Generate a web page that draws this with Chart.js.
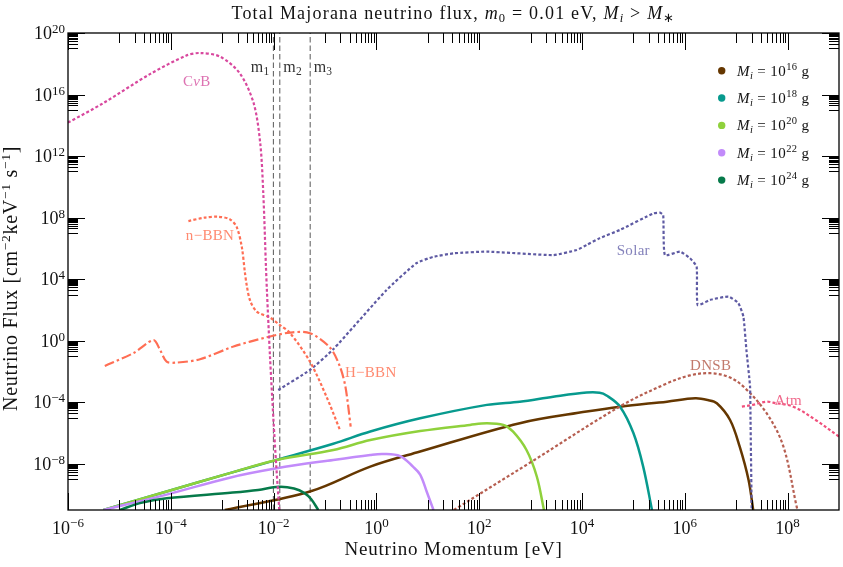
<!DOCTYPE html>
<html><head><meta charset="utf-8">
<style>html,body{margin:0;padding:0;background:#fff}#wrap{width:843px;height:567px}</style>
<script src="https://cdn.jsdelivr.net/npm/chart.js@4/dist/chart.umd.min.js"></script>
</head><body><div id="wrap"><canvas id="c" width="843" height="567"></canvas></div>
<script>
// ---------------- data ----------------
const xTickValues = [1e-6, 1e-4, 1e-2, 1e0, 1e2, 1e4, 1e6, 1e8];
const xTickExps   = ['−6', '−4', '−2', '0', '2', '4', '6', '8'];
const yTickValues = [1e20, 1e16, 1e12, 1e8, 1e4, 1e0, 1e-4, 1e-8];
const yTickExps   = ['20', '16', '12', '8', '4', '0', '−4', '−8'];

const massLineP   = [0.0099, 0.0132, 0.0515];   // m1, m2, m3 [eV]
const massLabels  = ['1', '2', '3'];

const pbhMassExps = ['16', '18', '20', '22', '24'];

// PBH spectra (momentum eV, flux)
const m16P = [1.12e-3, 5.1e-2, 0.76, 7.1, 617, 1.23e4, 5.5e4, 4.5e5, 1.6e6, 2.8e6, 4.2e6, 7.6e6, 1.17e7, 1.74e7, 2.14e7];
const m16F = [1e-11, 1.6e-10, 6.6e-9, 6.3e-8, 4.4e-6, 2.5e-5, 5.2e-5, 1.1e-4, 1.8e-4, 1.4e-4, 8.7e-5, 7.1e-6, 1.3e-7, 8.9e-10, 1e-11];

const m18P = [4.9e-6, 8.3e-5, 1.4e-3, 1.15e-2, 0.145, 0.76, 7.1, 141, 617, 2.75e3, 1.23e4, 2.2e4, 3.0e4, 5.5e4, 1e5, 1.55e5, 2.3e5];
const m18F = [1e-11, 1.6e-10, 2.5e-9, 1.8e-8, 2.0e-7, 1.26e-6, 9.1e-6, 6.8e-5, 1.1e-4, 2.3e-4, 4.3e-4, 4.2e-4, 2.8e-4, 5.2e-5, 1e-6, 6.6e-9, 1e-11];

const m20P = [4.9e-6, 8.3e-5, 1.4e-3, 1.15e-2, 0.145, 0.76, 7.1, 66, 141, 295, 457, 832, 1.32e3, 1.82e3];
const m20F = [1e-11, 1.6e-10, 2.5e-9, 1.8e-8, 7.9e-8, 3.5e-7, 1.35e-6, 3.4e-6, 4.4e-6, 3.4e-6, 1.23e-6, 7.9e-8, 1.5e-9, 1e-11];

const m22P = [4.9e-6, 8.3e-5, 1.4e-3, 1.15e-2, 0.145, 0.76, 1.35, 2.9, 5.2, 7.1, 9.5, 12.9];
const m22F = [1e-11, 1e-10, 1.26e-9, 5.1e-9, 1.8e-8, 3.8e-8, 4.4e-8, 3.2e-8, 6.3e-9, 2.0e-9, 1.6e-10, 1e-11];

const m24P = [1.02e-5, 2.5e-5, 8.3e-5, 1.6e-3, 5.0e-3, 1.26e-2, 2.5e-2, 4.0e-2, 5.4e-2, 7.4e-2];
const m24F = [1e-11, 2.8e-11, 5.8e-11, 1.35e-10, 2.0e-10, 3.2e-10, 2.5e-10, 1.26e-10, 5e-11, 1e-11];

// Backgrounds
const cvbP = [1e-6, 4.8e-6, 4.0e-5, 2.0e-4, 3.7e-4, 9.1e-4, 2.2e-3, 4.1e-3, 5.5e-3, 6.3e-3, 7.1e-3, 7.4e-3, 8.5e-3, 1.0e-2, 1.12e-2, 1.29e-2];
const cvbF = [1.5e14, 2.7e15, 2.2e17, 3.4e18, 5.0e18, 2.9e18, 2.4e17, 2.7e15, 6.8e12, 3.8e9, 6.6e4, 2e3, 0.1, 5e-6, 1e-8, 1e-11];

const nbbnP = [2.2e-4, 4.5e-4, 8.3e-4, 1.4e-3, 1.9e-3, 2.4e-3, 2.75e-3, 3.0e-3, 3.5e-3, 4.7e-3, 8.5e-3, 1.3e-2, 2.1e-2, 5.1e-2, 0.107, 0.195];
const nbbnF = [6.0e7, 1.0e8, 1.15e8, 7.9e7, 2.6e7, 1.3e6, 3.2e4, 4e3, 4e2, 79, 32, 11, 3.1, 4.4e-2, 2.3e-4, 1.6e-6];

const hbbnP = [5.2e-6, 1.86e-5, 4.6e-5, 6.2e-5, 8.3e-5, 1.3e-4, 3.7e-4, 1.66e-3, 7.4e-3, 2.1e-2, 5.1e-2, 0.126, 0.195, 0.25, 0.316];
const hbbnF = [2.3e-2, 0.155, 1.1, 0.25, 4.4e-2, 3.8e-2, 6.3e-2, 0.42, 1.7, 3.4, 3.1, 0.35, 2.1e-2, 1e-3, 2.6e-6];

const solarP = [1.23e-2, 5.1e-2, 0.145, 1.58, 6.0, 12.6, 32, 141, 2.75e3, 7.9e3, 1.23e4, 2.2e4, 5.5e4, 2.45e5, 3.3e5, 3.8e5, 4.1e5, 8.1e5, 1.26e6, 1.7e6, 1.78e6, 3.1e6, 7.1e6, 1.1e7, 1.38e7, 1.58e7, 1.86e7, 1.9e7, 2.0e7];
const solarF = [6.3e-4, 1.26e-2, 0.28, 2.0e3, 1.1e5, 2.8e5, 4.8e5, 6.2e5, 3.7e5, 7.9e5, 1.66e6, 4.6e6, 1.6e7, 1.9e8, 2.1e8, 1.5e8, 3.7e5, 6.2e5, 2.3e5, 6.6e4, 2.1e2, 4.5e2, 7.4e2, 2.8e2, 37, 0.25, 1.05e-3, 7.1e-6, 1e-11];

const dnsbP = [32, 1e3, 5.6e4, 4.5e5, 1.26e6, 3.1e6, 7.1e6, 1.38e7, 3.9e7, 8.3e7, 1.5e8, 1.62e8];
const dnsbF = [1e-11, 1.26e-8, 5.6e-5, 1.7e-3, 5.6e-3, 7.8e-3, 4.5e-3, 1.05e-3, 1.95e-5, 1.3e-7, 1.66e-11, 6.3e-12];

const atmP = [1.29e7, 2.1e7, 3.9e7, 5.2e7, 1.29e8, 3.5e8, 1e9];
const atmF = [5.2e-5, 6.8e-5, 1.1e-4, 9.5e-5, 5.2e-5, 7.1e-6, 5.9e-7];

// ---------------- chart ----------------
const pts = (xs, ys) => xs.map((x, i) => ({x: x, y: ys[i]}));
const FONT = '"Liberation Serif", "Times New Roman", serif';
const fnt = (s, it) => (it ? 'italic ' : '') + s + 'px ' + FONT;

const solidColors = ['#653700', '#079a8e', '#8fd13c', '#c28bfa', '#067a4a'];
const solid = (d, c, o) => ({data: d, borderColor: c, borderWidth: 2.5, tension: 0.35, pointRadius: 0, fill: false, order: o});
const dotted = (d, c, o, t) => ({data: d, borderColor: c, borderWidth: 2.2, borderDash: [3, 2.2], tension: t, pointRadius: 0, fill: false, order: o});

const datasets = [
  dotted(pts(cvbP, cvbF), '#d8489e', 1, 0.3),
  dotted(pts(nbbnP, nbbnF), '#ff6e54', 2, 0.3),
  {data: pts(hbbnP, hbbnF), borderColor: '#ff6e54', borderWidth: 2.2, borderDash: [10, 3, 2.5, 3], tension: 0.3, pointRadius: 0, fill: false, order: 3},
  dotted(pts(solarP, solarF), '#5e5aa3', 4, 0.15),
  dotted(pts(dnsbP, dnsbF), '#b65e50', 5, 0.35),
  dotted(pts(atmP, atmF), '#f0507c', 6, 0.35),
  solid(pts(m24P, m24F), solidColors[4], 7),
  solid(pts(m22P, m22F), solidColors[3], 8),
  solid(pts(m20P, m20F), solidColors[2], 9),
  solid(pts(m18P, m18F), solidColors[1], 10),
  solid(pts(m16P, m16F), solidColors[0], 11),
];
massLineP.forEach((m, i) => datasets.push({data: [{x: m, y: 1e-11}, {x: m, y: 1e20}], borderColor: 'rgba(70,70,70,0.9)', borderWidth: 1, borderDash: [5.5, 3], pointRadius: 0, fill: false, order: 20 + i}));

function drawParts(ctx, parts, x, y, align, spacing) {
  ctx.letterSpacing = (spacing || 0) + 'px';
  const ws = parts.map(p => { ctx.font = fnt(p[1], p[2]); return ctx.measureText(p[0]).width; });
  const w = ws.reduce((a, b) => a + b, 0);
  let cx = align === 'center' ? x - w / 2 : align === 'right' ? x - w : x;
  parts.forEach((p, i) => { ctx.font = fnt(p[1], p[2]); ctx.fillText(p[0], cx, y + (p[3] || 0)); cx += ws[i]; });
  ctx.letterSpacing = '0px';
  return w;
}

const decor = {
  id: 'decor',
  afterDraw(chart) {
    const ctx = chart.ctx, a = chart.chartArea, xs = chart.scales.x, ys = chart.scales.y;
    ctx.save();
    ctx.textBaseline = 'alphabetic';
    ctx.fillStyle = '#000';
    ctx.strokeStyle = '#000';
    // ticks (major every listed value, minor in the decade below each)
    const MAJ = 17, MIN = 10;
    ctx.lineWidth = 1;
    ctx.beginPath();
    xTickValues.forEach(v => {
      const px = Math.round(xs.getPixelForValue(v)) + 0.5;
      ctx.moveTo(px, a.bottom); ctx.lineTo(px, a.bottom - MAJ);
      ctx.moveTo(px, a.top); ctx.lineTo(px, a.top + MAJ);
      for (let j = 1; j <= 9; j++) {
        const mv = v / 10 * j;
        if (mv < xs.min) continue;
        const q = Math.round(xs.getPixelForValue(mv)) + 0.5;
        ctx.moveTo(q, a.bottom); ctx.lineTo(q, a.bottom - MIN);
        ctx.moveTo(q, a.top); ctx.lineTo(q, a.top + MIN);
      }
    });
    yTickValues.forEach(v => {
      const py = Math.round(ys.getPixelForValue(v)) + 0.5;
      ctx.moveTo(a.left, py); ctx.lineTo(a.left + MAJ, py);
      ctx.moveTo(a.right, py); ctx.lineTo(a.right - MAJ, py);
      for (let j = 1; j <= 9; j++) {
        const mv = v / 10 * j;
        if (mv < ys.min) continue;
        const q = Math.round(ys.getPixelForValue(mv)) + 0.5;
        ctx.moveTo(a.left, q); ctx.lineTo(a.left + MIN, q);
        ctx.moveTo(a.right, q); ctx.lineTo(a.right - MIN, q);
      }
    });
    ctx.stroke();
    // frame
    ctx.lineWidth = 1.3;
    ctx.strokeRect(a.left, a.top, a.right - a.left, a.bottom - a.top);

    // tick labels
    ctx.fillStyle = '#111';
    xTickValues.forEach((v, i) => {
      const px = xs.getPixelForValue(v);
      drawParts(ctx, [['10', 18, false, 0], [xTickExps[i], 13, false, -7]], px, a.bottom + 23.5, 'center');
    });
    yTickValues.forEach((v, i) => {
      const py = ys.getPixelForValue(v);
      drawParts(ctx, [['10', 18, false, 0], [yTickExps[i], 13, false, -6]], a.left - 3, py + 6, 'right');
    });

    // axis titles
    drawParts(ctx, [['Neutrino Momentum [eV]', 19, false, 0]], (a.left + a.right) / 2, 555, 'center', 0.8);
    ctx.save();
    ctx.translate(17, (a.top + a.bottom) / 2 + 7);
    ctx.rotate(-Math.PI / 2);
    drawParts(ctx, [['Neutrino Flux [cm', 20, false, 0], ['−2', 13.5, false, -7.5], ['keV', 20, false, 0], ['−1', 13.5, false, -7.5], [' s', 20, false, 0], ['−1', 13.5, false, -7.5], [']', 20, false, 0]], 0, 0, 'center', 0.7);
    ctx.restore();

    // title
    drawParts(ctx, [['Total Majorana neutrino flux, ', 18, false, 0], ['m', 18, true, 0], ['0', 12.5, false, 3], [' = 0.01 eV, ', 18, false, 0], ['M', 18, true, 0], ['i', 12.5, true, 3], [' > ', 18, false, 0], ['M', 18, true, 0], ['∗', 12.5, false, 3]], (a.left + a.right) / 2, 18.5, 'center', 1.2);

    // mass lines labels
    ctx.fillStyle = '#333';
    massLineP.forEach((m, i) => {
      const px = xs.getPixelForValue(m);
      const parts = [['m', 16, false, 0], [massLabels[i], 11.5, false, 3]];
      if (i === 0) drawParts(ctx, parts, px - 4, 72, 'right', 0.2);
      else drawParts(ctx, parts, px + 3.5, 72, 'left', 0.2);
    });

    // curve labels
    const lab = (t, c, x, y) => { ctx.fillStyle = c; drawParts(ctx, t, x, y, 'center', 0.3); };
    lab([['C', 15, false, 0], ['ν', 15, true, 0], ['B', 15, false, 0]], '#dd72b2', 196.7, 86);
    lab([['n−BBN', 15, false, 0]], '#ff8a70', 210, 239.5);
    lab([['H−BBN', 15, false, 0]], '#ff8a70', 370.7, 377);
    lab([['Solar', 15, false, 0]], '#8482bb', 633.3, 255);
    lab([['DNSB', 15, false, 0]], '#c27a6c', 710.7, 369.5);
    lab([['Atm', 15, false, 0]], '#f06b8d', 788.3, 404.5);

    // legend
    pbhMassExps.forEach((e, i) => {
      const cy = 70.7 + i * 27.35;
      ctx.fillStyle = solidColors[i];
      ctx.beginPath(); ctx.arc(721.7, cy, 3.7, 0, Math.PI * 2); ctx.fill();
      ctx.fillStyle = '#111';
      drawParts(ctx, [['M', 15, true, 0], ['i', 10.5, true, 3], [' = 10', 15, false, 0], [e, 10.5, false, -6], [' g', 15, false, 0]], 737, cy + 5, 'left', 0.4);
    });
    ctx.restore();
  }
};

new Chart(document.getElementById('c'), {
  type: 'line',
  data: {datasets: datasets},
  options: {
    responsive: false,
    animation: false,
    devicePixelRatio: 1,
    events: [],
    layout: {padding: {left: 68, right: 4, top: 33, bottom: 57}},
    scales: {
      x: {type: 'logarithmic', min: 1e-6, max: 1e9, display: false},
      y: {type: 'logarithmic', min: 1e-11, max: 1e20, display: false}
    },
    plugins: {legend: {display: false}, tooltip: {enabled: false}}
  },
  plugins: [decor]
});
</script>
</body></html>
